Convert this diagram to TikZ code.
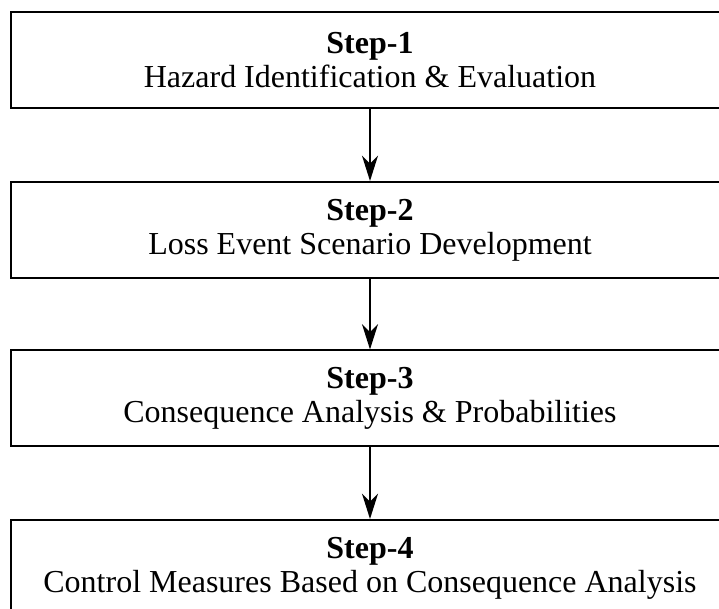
\documentclass[tikz,border=0pt]{standalone}
\usepackage{fontspec}
\setmainfont{Liberation Serif}
\usetikzlibrary{arrows.meta}

\tikzset{
  stepbox/.style={draw=black, line width=1.5pt, fill=white, minimum width=538.5pt, minimum height=72pt, align=center, inner sep=0pt, font=\fontsize{24}{25.5}\selectfont},
  flowarrow/.style={-{Stealth[length=19pt, width=12pt, inset=6pt]}, line width=1.5pt, black}
}

\begin{document}
\begin{tikzpicture}[x=0.75pt,y=0.75pt,yscale=-1,xscale=1]

\useasboundingbox (0,0) rectangle (719,609);
\clip (0,0) rectangle (719,609);

% Step boxes
\node [stepbox] (s1) at (370,60) {\textbf{Step-1}\\Hazard Identification \& Evaluation};
\node [stepbox] (s2) at (370,230) {\textbf{Step-2}\\Loss Event Scenario Development};
\node [stepbox] (s3) at (370,398.5) {\textbf{Step-3}\\Consequence Analysis \& Probabilities};
\node [stepbox] (s4) at (370,568) {\textbf{Step-4}\\Control Measures Based on Consequence Analysis};

% Links between steps
\draw [flowarrow] (s1) -- (s2);
\draw [flowarrow] (s2) -- (s3);
\draw [flowarrow] (s3) -- (s4);

\end{tikzpicture}
\end{document}
